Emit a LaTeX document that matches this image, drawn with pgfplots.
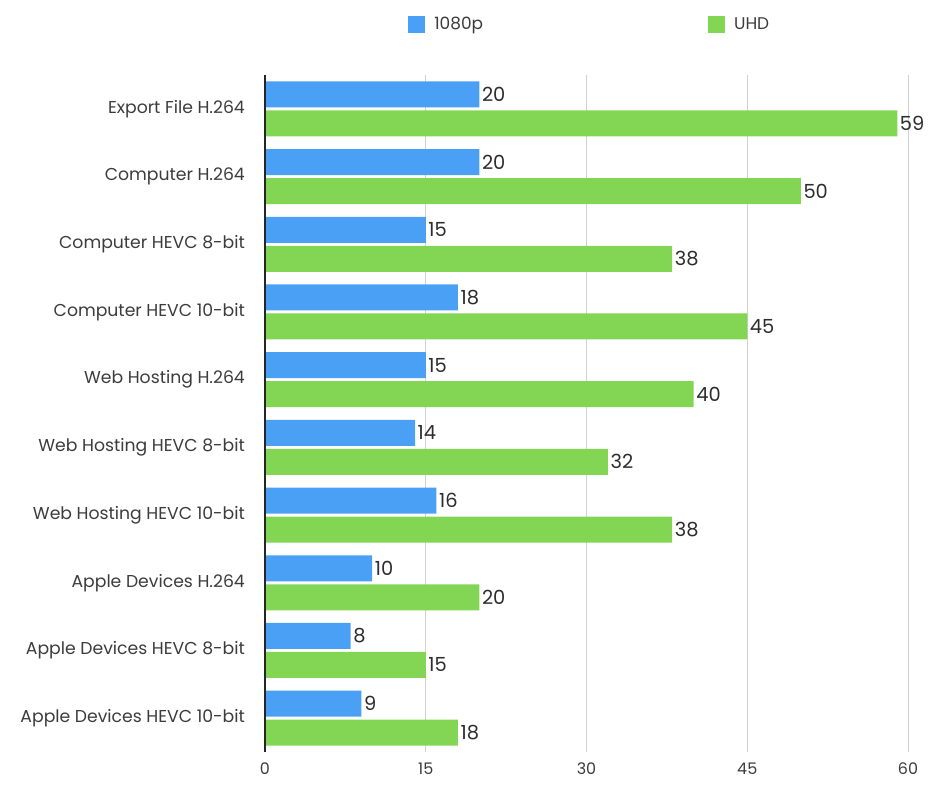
\documentclass[border=0pt]{standalone}
\usepackage{pgfplots}
\pgfplotsset{compat=1.18}
\usepackage{fontspec}
\setmainfont{Poppins}
\definecolor{cblue}{RGB}{74,160,245}
\definecolor{cgreen}{RGB}{131,214,84}
\definecolor{txt}{RGB}{45,45,45}
\definecolor{lbl}{RGB}{60,60,60}
\begin{document}
\begin{tikzpicture}
\useasboundingbox (0,0) rectangle (949bp,800bp);
\begin{axis}[
  at={(265bp,48bp)}, anchor=south west,
  scale only axis, width=643bp, height=677bp,
  xbar, xmin=0, xmax=60, ymin=-0.5, ymax=9.5, y dir=reverse,
  clip=false,
  ytick={0,...,9},
  yticklabels={Export File H.264, Computer H.264, Computer HEVC 8-bit, Computer HEVC 10-bit, Web Hosting H.264, Web Hosting HEVC 8-bit, Web Hosting HEVC 10-bit, Apple Devices H.264, Apple Devices HEVC 8-bit, Apple Devices HEVC 10-bit},
  xtick={0,15,30,45,60},
  major tick length=0pt,
  xmajorgrids, grid style={black!18, line width=0.8bp},
  axis line style={draw=none},
  /pgf/number format/assume math mode=true,
  yticklabel style={font=\fontsize{17.3}{17.3}\selectfont, text=lbl, anchor=east, inner sep=0pt, xshift=-20bp},
  xticklabel style={font=\fontsize{16}{16}\selectfont, text=lbl, anchor=north, inner sep=0pt, yshift=-11bp},
  bar width=26bp,
  nodes near coords,
  nodes near coords style={font=\fontsize{19.5}{19.5}\selectfont, text=txt, anchor=west, inner sep=2.5bp},
  legend columns=2,
  legend style={draw=none, fill=none, at={(0.2225,1.0753)}, anchor=west, inner sep=0pt,
    font=\fontsize{17}{17}\selectfont, text=lbl,
    /tikz/every even column/.append style={column sep=223bp}},
  legend image code/.code={\fill[#1] (0bp,-8.5bp) rectangle (17bp,8.5bp); \path (24bp,0bp);},
]
\addplot[fill=cblue, draw=none, bar shift=14.5bp] coordinates {
(20,0) (20,1) (15,2) (18,3) (15,4) (14,5) (16,6) (10,7) (8,8) (9,9)};
\addlegendentry{1080p}
\addplot[fill=cgreen, draw=none, bar shift=-14.5bp] coordinates {
(59,0) (50,1) (38,2) (45,3) (40,4) (32,5) (38,6) (20,7) (15,8) (18,9)};
\addlegendentry{UHD}
\draw[black!85, line width=1.3bp] (rel axis cs:0,0) -- (rel axis cs:0,1);
\end{axis}
\end{tikzpicture}
\end{document}
